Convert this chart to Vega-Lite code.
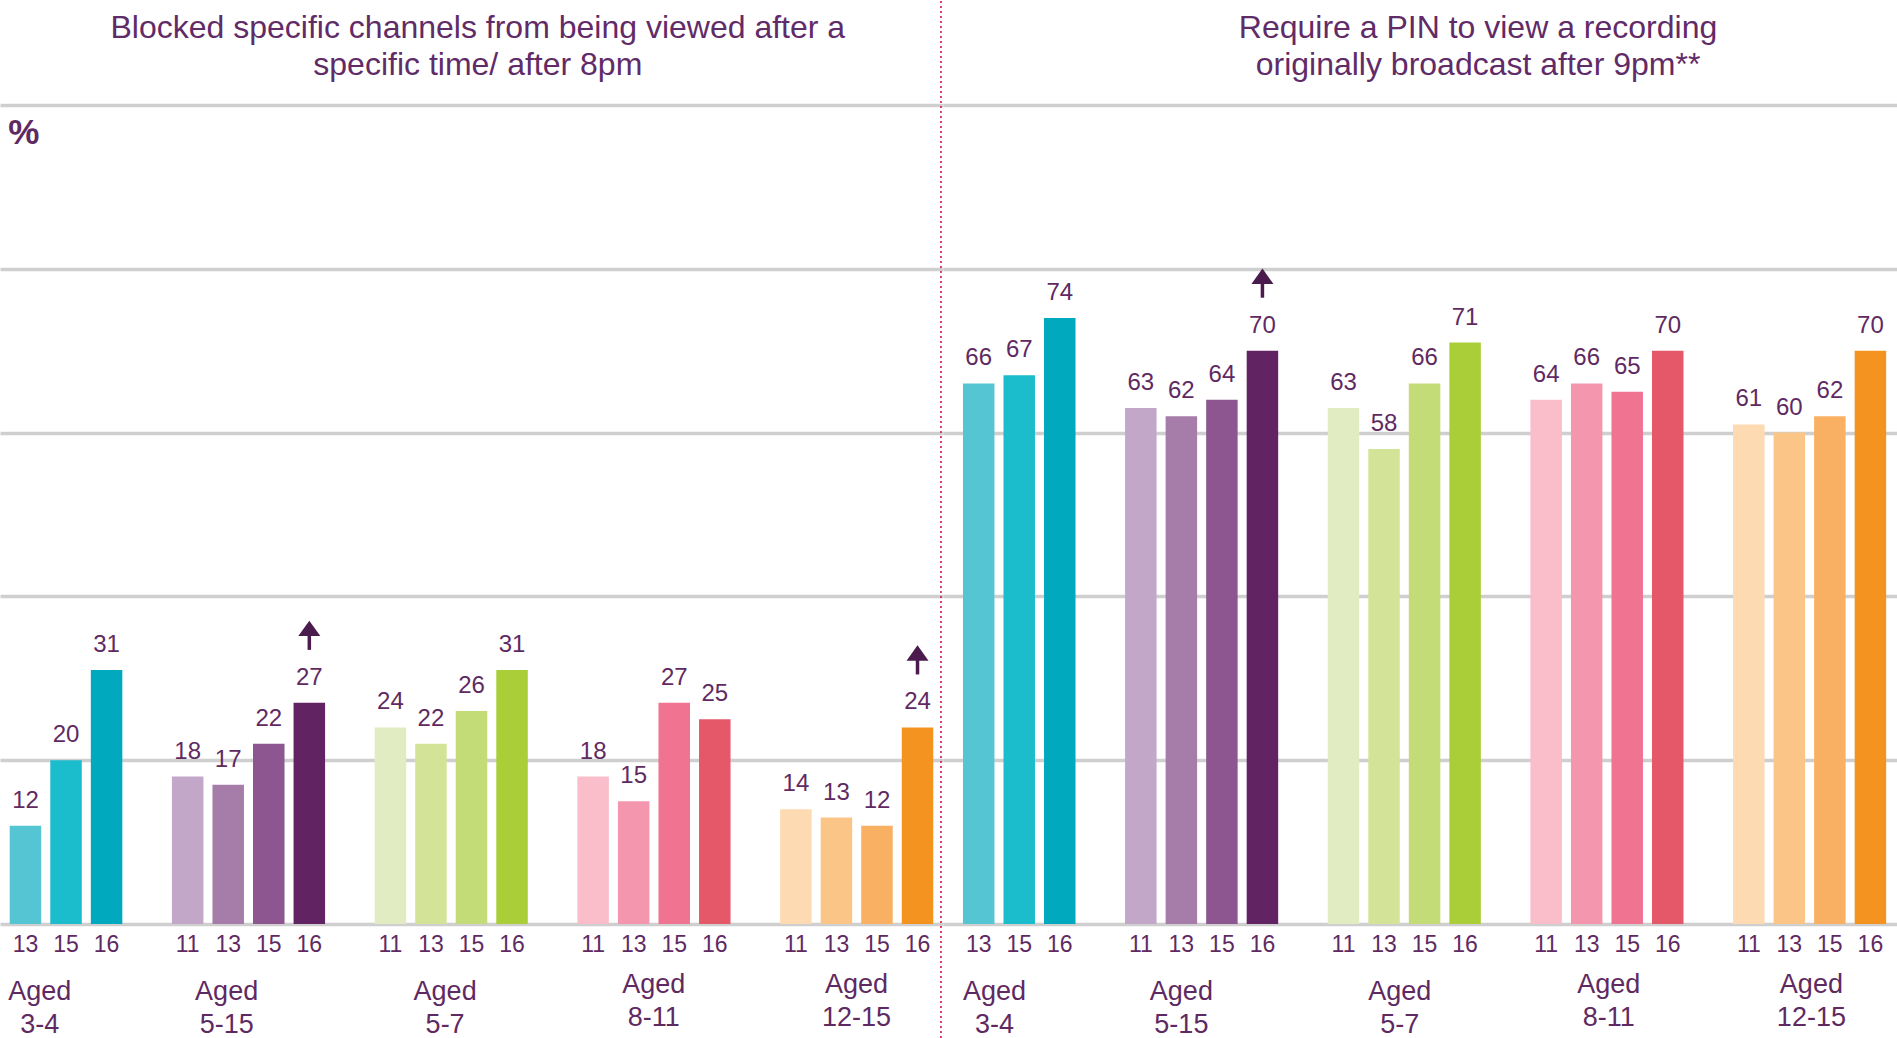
{
  "$schema": "https://vega.github.io/schema/vega-lite/v6.json",
  "padding": 0,
  "autosize": {"type": "pad"},
  "bounds": "flush",
  "spacing": 0,
  "background": "white",
  "datasets": {
    "bars": [
      {"panel": "L", "slot": "3-4|13", "value": 12, "sig": false},
      {"panel": "L", "slot": "3-4|15", "value": 20, "sig": false},
      {"panel": "L", "slot": "3-4|16", "value": 31, "sig": false},
      {"panel": "L", "slot": "5-15|11", "value": 18, "sig": false},
      {"panel": "L", "slot": "5-15|13", "value": 17, "sig": false},
      {"panel": "L", "slot": "5-15|15", "value": 22, "sig": false},
      {"panel": "L", "slot": "5-15|16", "value": 27, "sig": true},
      {"panel": "L", "slot": "5-7|11", "value": 24, "sig": false},
      {"panel": "L", "slot": "5-7|13", "value": 22, "sig": false},
      {"panel": "L", "slot": "5-7|15", "value": 26, "sig": false},
      {"panel": "L", "slot": "5-7|16", "value": 31, "sig": false},
      {"panel": "L", "slot": "8-11|11", "value": 18, "sig": false},
      {"panel": "L", "slot": "8-11|13", "value": 15, "sig": false},
      {"panel": "L", "slot": "8-11|15", "value": 27, "sig": false},
      {"panel": "L", "slot": "8-11|16", "value": 25, "sig": false},
      {"panel": "L", "slot": "12-15|11", "value": 14, "sig": false},
      {"panel": "L", "slot": "12-15|13", "value": 13, "sig": false},
      {"panel": "L", "slot": "12-15|15", "value": 12, "sig": false},
      {"panel": "L", "slot": "12-15|16", "value": 24, "sig": true},
      {"panel": "R", "slot": "3-4|13", "value": 66, "sig": false},
      {"panel": "R", "slot": "3-4|15", "value": 67, "sig": false},
      {"panel": "R", "slot": "3-4|16", "value": 74, "sig": false},
      {"panel": "R", "slot": "5-15|11", "value": 63, "sig": false},
      {"panel": "R", "slot": "5-15|13", "value": 62, "sig": false},
      {"panel": "R", "slot": "5-15|15", "value": 64, "sig": false},
      {"panel": "R", "slot": "5-15|16", "value": 70, "sig": true},
      {"panel": "R", "slot": "5-7|11", "value": 63, "sig": false},
      {"panel": "R", "slot": "5-7|13", "value": 58, "sig": false},
      {"panel": "R", "slot": "5-7|15", "value": 66, "sig": false},
      {"panel": "R", "slot": "5-7|16", "value": 71, "sig": false},
      {"panel": "R", "slot": "8-11|11", "value": 64, "sig": false},
      {"panel": "R", "slot": "8-11|13", "value": 66, "sig": false},
      {"panel": "R", "slot": "8-11|15", "value": 65, "sig": false},
      {"panel": "R", "slot": "8-11|16", "value": 70, "sig": false},
      {"panel": "R", "slot": "12-15|11", "value": 61, "sig": false},
      {"panel": "R", "slot": "12-15|13", "value": 60, "sig": false},
      {"panel": "R", "slot": "12-15|15", "value": 62, "sig": false},
      {"panel": "R", "slot": "12-15|16", "value": 70, "sig": false}
    ],
    "groups": [
      {"group": "3-4", "anchor": "3-4|13", "label": "Aged\n3-4"},
      {"group": "5-15", "anchor": "5-15|13", "label": "Aged\n5-15"},
      {"group": "5-7", "anchor": "5-7|13", "label": "Aged\n5-7"},
      {"group": "8-11", "anchor": "8-11|13", "label": "Aged\n8-11"},
      {"group": "12-15", "anchor": "12-15|13", "label": "Aged\n12-15"}
    ]
  },
  "config": {
    "view": {"stroke": null},
    "font": "Liberation Sans",
    "axisY": {"grid": true, "gridColor": "#cfcfcf", "gridWidth": 3.5, "labels": false, "ticks": false, "domain": false, "title": null},
    "axisX": {"grid": false, "ticks": false, "tickSize": 0, "domain": false, "title": null, "labelAngle": 0, "labelOverlap": false, "labelFontSize": 23, "labelColor": "#5f2a62", "labelPadding": 9.5, "labelFont": "Liberation Sans"}
  },
  "hconcat": [
    {
      "width": 943,
      "height": 819,
      "layer": [
        {
          "data": {"name": "bars"},
          "transform": [{"filter": "datum.panel == 'L'"}],
          "mark": {"type": "bar"},
          "encoding": {
            "x": {
              "field": "slot", "type": "nominal", "sort": null,
              "scale": {
                "domain": ["3-4|13","3-4|15","3-4|16","gap1","5-15|11","5-15|13","5-15|15","5-15|16","gap2","5-7|11","5-7|13","5-7|15","5-7|16","gap3","8-11|11","8-11|13","8-11|15","8-11|16","gap4","12-15|11","12-15|13","12-15|15","12-15|16"],
                "paddingInner": 0.223, "paddingOuter": 0.24
              },
              "axis": {"labelExpr": "indexof(datum.value, '|') >= 0 ? split(datum.value, '|')[1] : ''"}
            },
            "y": {
              "field": "value", "type": "quantitative",
              "scale": {"domain": [0, 100], "nice": false},
              "axis": {"values": [0, 20, 40, 60, 80, 100]}
            },
            "color": {
              "field": "slot", "type": "nominal", "legend": null,
              "scale": {
                "domain": ["3-4|13","3-4|15","3-4|16","5-15|11","5-15|13","5-15|15","5-15|16","5-7|11","5-7|13","5-7|15","5-7|16","8-11|11","8-11|13","8-11|15","8-11|16","12-15|11","12-15|13","12-15|15","12-15|16"],
                "range": ["#56c5d3","#1bbdcc","#00a9bd","#c3a7c9","#a67ca9","#8d5690","#612362","#e2ecc3","#d3e498","#c3dc77","#a9ce37","#f9bec9","#f497ae","#f07392","#e5586a","#fddab1","#fbc587","#fab062","#f59321"]
              }
            }
          }
        },
        {
          "data": {"name": "bars"},
          "transform": [{"filter": "datum.panel == 'L'"}],
          "mark": {"type": "text", "dy": -18, "baseline": "alphabetic", "fontSize": 24, "color": "#5f2a62"},
          "encoding": {
            "x": {"field": "slot", "type": "nominal", "sort": null},
            "y": {"field": "value", "type": "quantitative"},
            "text": {"field": "value", "type": "quantitative"}
          }
        },
        {
          "data": {"name": "bars"},
          "transform": [{"filter": "datum.panel == 'L' && datum.sig"}],
          "mark": {"type": "rule", "color": "#4b1b4e", "strokeWidth": 3.5, "yOffset": -53, "y2Offset": -69},
          "encoding": {
            "x": {"field": "slot", "type": "nominal", "sort": null},
            "y": {"field": "value", "type": "quantitative"},
            "y2": {"field": "value"}
          }
        },
        {
          "data": {"name": "bars"},
          "transform": [{"filter": "datum.panel == 'L' && datum.sig"}],
          "mark": {"type": "point", "shape": "M-1,0.7L0,-0.7L1,0.7Z", "size": 484, "filled": true, "opacity": 1, "color": "#4b1b4e", "strokeWidth": 0, "yOffset": -74.5},
          "encoding": {
            "x": {"field": "slot", "type": "nominal", "sort": null},
            "y": {"field": "value", "type": "quantitative"}
          }
        },
        {
          "data": {"name": "groups"},
          "transform": [{"filter": "datum.group == '3-4' || datum.group == '5-7'"}],
          "mark": {"type": "text", "fontSize": 27, "color": "#5f2a62", "lineBreak": "\n", "lineHeight": 33, "baseline": "alphabetic", "align": "center"},
          "encoding": {
            "x": {"field": "anchor", "type": "nominal", "bandPosition": 0.95},
            "y": {"datum": -9.3},
            "text": {"field": "label", "type": "nominal"}
          }
        },
        {
          "data": {"name": "groups"},
          "transform": [{"filter": "datum.group == '8-11' || datum.group == '12-15'"}],
          "mark": {"type": "text", "fontSize": 27, "color": "#5f2a62", "lineBreak": "\n", "lineHeight": 33, "baseline": "alphabetic", "align": "center"},
          "encoding": {
            "x": {"field": "anchor", "type": "nominal", "bandPosition": 1.14},
            "y": {"datum": -8.4},
            "text": {"field": "label", "type": "nominal"}
          }
        },
        {
          "data": {"name": "groups"},
          "transform": [{"filter": "datum.group == '5-15'"}],
          "mark": {"type": "text", "fontSize": 27, "color": "#5f2a62", "lineBreak": "\n", "lineHeight": 33, "baseline": "alphabetic", "align": "center"},
          "encoding": {
            "x": {"field": "anchor", "type": "nominal", "bandPosition": 0.45},
            "y": {"datum": -9.3},
            "text": {"field": "label", "type": "nominal"}
          }
        },
        {
          "data": {"values": [{}]},
          "mark": {"type": "text", "fontSize": 32, "color": "#612b68", "lineBreak": "\n", "lineHeight": 37.3, "baseline": "alphabetic", "align": "center"},
          "encoding": {
            "x": {"datum": "5-7|15", "bandPosition": 0.7},
            "y": {"datum": 108.2},
            "text": {"value": "Blocked specific channels from being viewed after a\nspecific time/ after 8pm"}
          }
        },
        {
          "data": {"values": [{}]},
          "mark": {"type": "text", "fontSize": 35, "fontWeight": "bold", "color": "#5f2a62", "baseline": "alphabetic", "align": "left"},
          "encoding": {
            "x": {"datum": "3-4|13", "bandPosition": -0.05},
            "y": {"datum": 95.2},
            "text": {"value": "%"}
          }
        },
        {
          "data": {"values": [{}]},
          "mark": {"type": "rule", "color": "#d9134f", "strokeWidth": 1.6, "strokeDash": [2, 3]},
          "encoding": {
            "x": {"datum": "12-15|16", "bandPosition": 1.244},
            "y": {"datum": 112.7},
            "y2": {"datum": -14.05}
          }
        }
      ]
    },
    {
      "width": 954,
      "height": 819,
      "layer": [
        {
          "data": {"name": "bars"},
          "transform": [{"filter": "datum.panel == 'R'"}],
          "mark": {"type": "bar"},
          "encoding": {
            "x": {
              "field": "slot", "type": "nominal", "sort": null,
              "scale": {
                "domain": ["3-4|13","3-4|15","3-4|16","gap1","5-15|11","5-15|13","5-15|15","5-15|16","gap2","5-7|11","5-7|13","5-7|15","5-7|16","gap3","8-11|11","8-11|13","8-11|15","8-11|16","gap4","12-15|11","12-15|13","12-15|15","12-15|16"],
                "paddingInner": 0.223, "paddingOuter": 0.38, "align": 0.648
              },
              "axis": {"labelExpr": "indexof(datum.value, '|') >= 0 ? split(datum.value, '|')[1] : ''"}
            },
            "y": {
              "field": "value", "type": "quantitative",
              "scale": {"domain": [0, 100], "nice": false},
              "axis": {"values": [0, 20, 40, 60, 80, 100]}
            },
            "color": {
              "field": "slot", "type": "nominal", "legend": null,
              "scale": {
                "domain": ["3-4|13","3-4|15","3-4|16","5-15|11","5-15|13","5-15|15","5-15|16","5-7|11","5-7|13","5-7|15","5-7|16","8-11|11","8-11|13","8-11|15","8-11|16","12-15|11","12-15|13","12-15|15","12-15|16"],
                "range": ["#56c5d3","#1bbdcc","#00a9bd","#c3a7c9","#a67ca9","#8d5690","#612362","#e2ecc3","#d3e498","#c3dc77","#a9ce37","#f9bec9","#f497ae","#f07392","#e5586a","#fddab1","#fbc587","#fab062","#f59321"]
              }
            }
          }
        },
        {
          "data": {"name": "bars"},
          "transform": [{"filter": "datum.panel == 'R'"}],
          "mark": {"type": "text", "dy": -18, "baseline": "alphabetic", "fontSize": 24, "color": "#5f2a62"},
          "encoding": {
            "x": {"field": "slot", "type": "nominal", "sort": null},
            "y": {"field": "value", "type": "quantitative"},
            "text": {"field": "value", "type": "quantitative"}
          }
        },
        {
          "data": {"name": "bars"},
          "transform": [{"filter": "datum.panel == 'R' && datum.sig"}],
          "mark": {"type": "rule", "color": "#4b1b4e", "strokeWidth": 3.5, "yOffset": -53, "y2Offset": -69},
          "encoding": {
            "x": {"field": "slot", "type": "nominal", "sort": null},
            "y": {"field": "value", "type": "quantitative"},
            "y2": {"field": "value"}
          }
        },
        {
          "data": {"name": "bars"},
          "transform": [{"filter": "datum.panel == 'R' && datum.sig"}],
          "mark": {"type": "point", "shape": "M-1,0.7L0,-0.7L1,0.7Z", "size": 484, "filled": true, "opacity": 1, "color": "#4b1b4e", "strokeWidth": 0, "yOffset": -74.5},
          "encoding": {
            "x": {"field": "slot", "type": "nominal", "sort": null},
            "y": {"field": "value", "type": "quantitative"}
          }
        },
        {
          "data": {"name": "groups"},
          "transform": [{"filter": "datum.group == '3-4' || datum.group == '5-7'"}],
          "mark": {"type": "text", "fontSize": 27, "color": "#5f2a62", "lineBreak": "\n", "lineHeight": 33, "baseline": "alphabetic", "align": "center"},
          "encoding": {
            "x": {"field": "anchor", "type": "nominal", "bandPosition": 1.0},
            "y": {"datum": -9.3},
            "text": {"field": "label", "type": "nominal"}
          }
        },
        {
          "data": {"name": "groups"},
          "transform": [{"filter": "datum.group == '8-11' || datum.group == '12-15'"}],
          "mark": {"type": "text", "fontSize": 27, "color": "#5f2a62", "lineBreak": "\n", "lineHeight": 33, "baseline": "alphabetic", "align": "center"},
          "encoding": {
            "x": {"field": "anchor", "type": "nominal", "bandPosition": 1.2},
            "y": {"datum": -8.4},
            "text": {"field": "label", "type": "nominal"}
          }
        },
        {
          "data": {"name": "groups"},
          "transform": [{"filter": "datum.group == '5-15'"}],
          "mark": {"type": "text", "fontSize": 27, "color": "#5f2a62", "lineBreak": "\n", "lineHeight": 33, "baseline": "alphabetic", "align": "center"},
          "encoding": {
            "x": {"field": "anchor", "type": "nominal", "bandPosition": 0.5},
            "y": {"datum": -9.3},
            "text": {"field": "label", "type": "nominal"}
          }
        },
        {
          "data": {"values": [{}]},
          "mark": {"type": "text", "fontSize": 32, "color": "#612b68", "lineBreak": "\n", "lineHeight": 37.3, "baseline": "alphabetic", "align": "center"},
          "encoding": {
            "x": {"datum": "5-7|16", "bandPosition": 0.91},
            "y": {"datum": 108.2},
            "text": {"value": "Require a PIN to view a recording\noriginally broadcast after 9pm**"}
          }
        }
      ]
    }
  ]
}
